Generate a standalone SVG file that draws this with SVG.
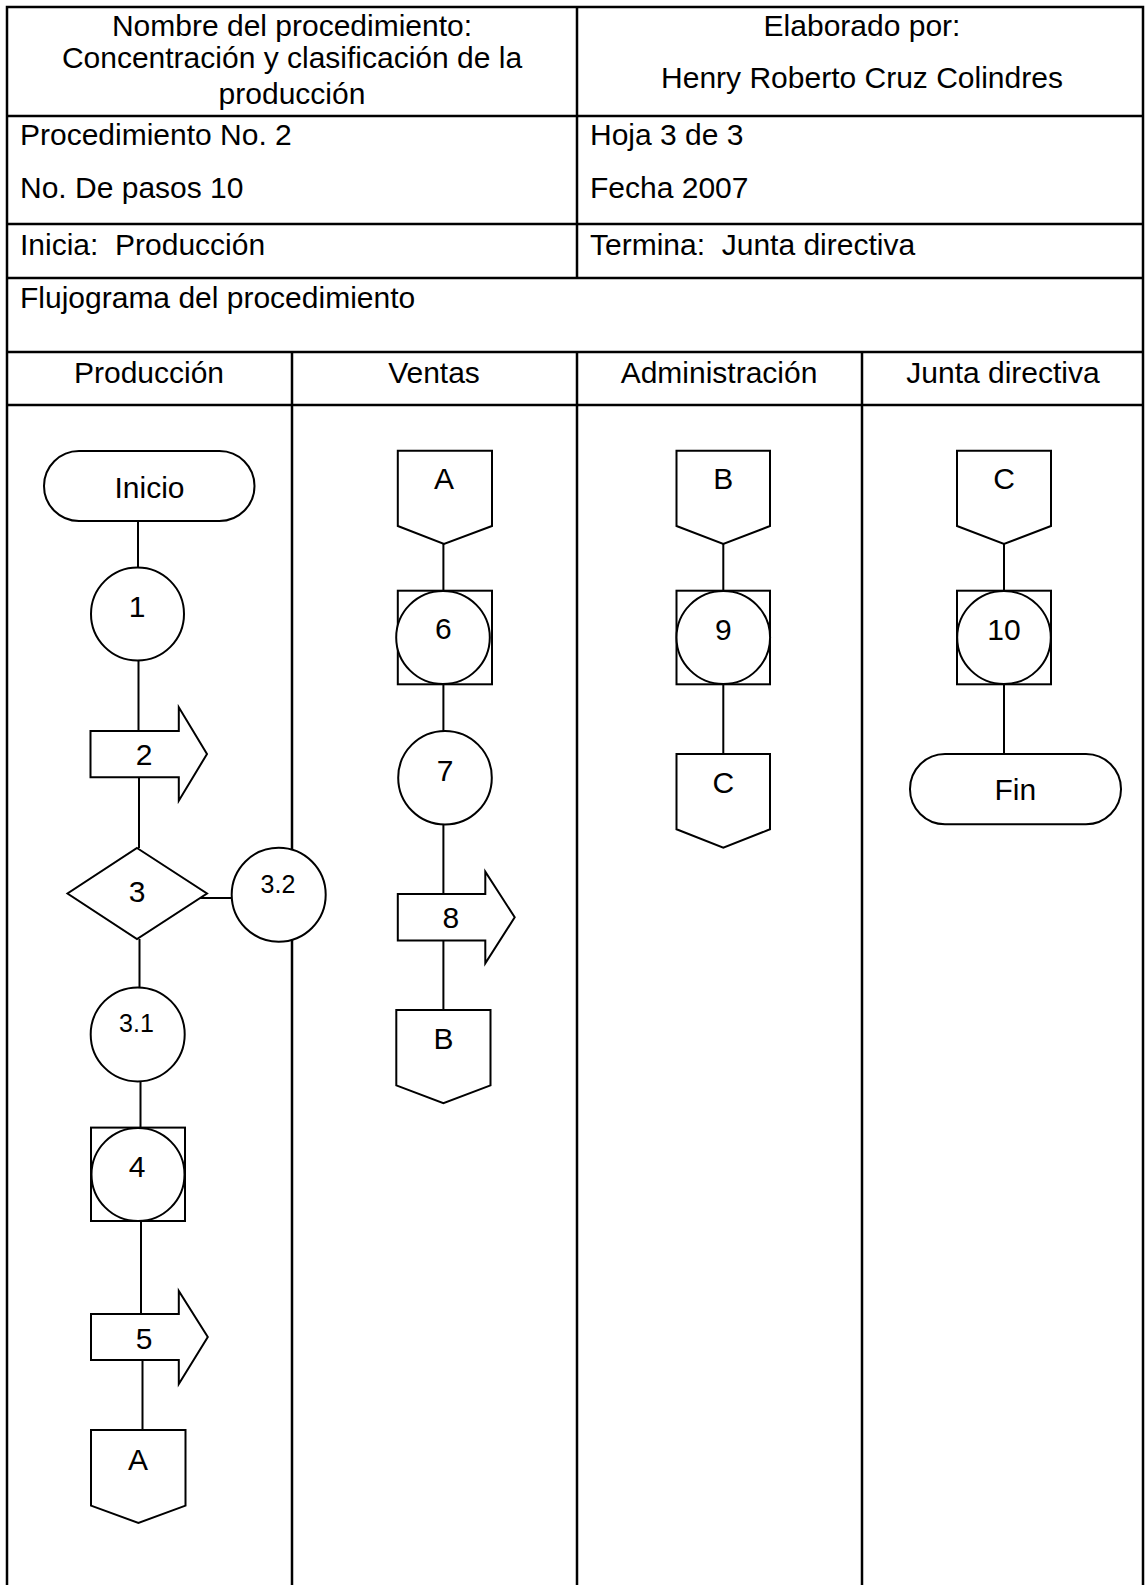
<svg xmlns="http://www.w3.org/2000/svg" width="1146" height="1585" viewBox="0 0 1146 1585">
<style>
.t{font-family:"Liberation Sans",Arial,sans-serif;font-size:30px;fill:#000}
.c{text-anchor:middle}
.s{font-size:25px}
.tbl{stroke:#000;stroke-width:2.5;fill:none}
.sh{stroke:#000;stroke-width:2;fill:#fff}
.ln{stroke:#000;stroke-width:2;fill:none}
</style>
<rect width="1146" height="1585" fill="#fff"/>
<g id="table">
<path class="tbl" d="M7,1585 V7 H1143 V1585 M7,116 H1143 M7,224 H1143 M7,278 H1143 M7,352 H1143 M7,405 H1143 M577,7 V278 M292,352 V1585 M577,352 V1585 M862,352 V1585"/>
<text class="t c" x="292" y="36">Nombre del procedimiento:</text>
<text class="t c" x="292" y="68">Concentración y clasificación de la</text>
<text class="t c" x="292" y="104">producción</text>
<text class="t c" x="862" y="36">Elaborado por:</text>
<text class="t c" x="862" y="88">Henry Roberto Cruz Colindres</text>
<text class="t" x="20" y="145">Procedimiento No. 2</text>
<text class="t" x="20" y="198">No. De pasos 10</text>
<text class="t" x="590" y="145">Hoja 3 de 3</text>
<text class="t" x="590" y="198">Fecha 2007</text>
<text class="t" x="20" y="255" xml:space="preserve">Inicia:  Producción</text>
<text class="t" x="590" y="255" xml:space="preserve">Termina:  Junta directiva</text>
<text class="t" x="20" y="308">Flujograma del procedimiento</text>
<text class="t c" x="149" y="383">Producción</text>
<text class="t c" x="434" y="383">Ventas</text>
<text class="t c" x="719" y="383">Administración</text>
<text class="t c" x="1003" y="383">Junta directiva</text>
</g>
<g id="connectors">
<path class="ln" d="M138,521 V567.5 M138.5,660.5 V731 M139,777.3 V848 M200,898 H232 M139.5,939 V987.6 M140.5,1081 V1127.6 M141,1221 V1314 M142.5,1360 V1430 M443.4,544 V590.7 M443.4,684.3 V731 M443.4,824.3 V894 M443.4,940.4 V1010 M723.3,544 V590.7 M723.3,684.3 V754 M1004,544 V590.7 M1004,684.3 V754"/>
</g>
<g id="inicio"><rect class="sh" x="44" y="451" width="210.5" height="70" rx="35"/><text class="t c" x="149.5" y="498">Inicio</text></g>
<g id="n1"><circle class="sh" cx="137.5" cy="614" r="46.5"/><text class="t c" x="137" y="617">1</text></g>
<g id="n2"><polygon class="sh" points="90.5,731 178.8,731 178.8,707.3 207,754 178.8,800.7 178.8,777.3 90.5,777.3"/><text class="t c" x="144" y="765">2</text></g>
<g id="n3"><polygon class="sh" points="137,848 207,893.5 137,939 67.5,893.5"/><text class="t c" x="137" y="902">3</text></g>
<g id="n3_2"><circle class="sh" cx="278.7" cy="894.7" r="47"/><text class="t c s" x="278" y="892.7">3.2</text></g>
<g id="n3_1"><circle class="sh" cx="137.7" cy="1034.4" r="47"/><text class="t c s" x="136.5" y="1032">3.1</text></g>
<g id="n4"><rect class="sh" x="91" y="1127.6" width="94" height="93.4"/><ellipse class="sh" cx="138" cy="1174.5" rx="46.5" ry="46.5"/><text class="t c" x="137" y="1177">4</text></g>
<g id="n5"><polygon class="sh" points="91,1314 178.8,1314 178.8,1291 207.8,1337 178.8,1384 178.8,1360 91,1360"/><text class="t c" x="144" y="1348.5">5</text></g>
<g id="conA1"><polygon class="sh" points="91,1430 185.5,1430 185.5,1505.6 138.4,1523 91,1505.6"/><text class="t c" x="138" y="1470">A</text></g>
<g id="conA2"><polygon class="sh" points="397.8,450.7 492,450.7 492,526 444,544 397.8,526"/><text class="t c" x="444" y="489">A</text></g>
<g id="n6"><rect class="sh" x="397.8" y="590.7" width="94.2" height="93.6"/><ellipse class="sh" cx="443" cy="637.5" rx="46.8" ry="46.5"/><text class="t c" x="443.4" y="639">6</text></g>
<g id="n7"><circle class="sh" cx="445" cy="777.7" r="46.8"/><text class="t c" x="445" y="780.7">7</text></g>
<g id="n8"><polygon class="sh" points="397.8,894 485.3,894 485.3,871.7 514.7,917.3 485.3,963.4 485.3,940.4 397.8,940.4"/><text class="t c" x="450.8" y="928">8</text></g>
<g id="conB1"><polygon class="sh" points="396.3,1010 490.5,1010 490.5,1085.4 443.4,1103.3 396.3,1085.4"/><text class="t c" x="443.4" y="1049">B</text></g>
<g id="conB2"><polygon class="sh" points="676.5,450.7 770,450.7 770,526 723.3,544 676.5,526"/><text class="t c" x="723.3" y="489.3">B</text></g>
<g id="n9"><rect class="sh" x="676.5" y="590.7" width="93.5" height="93.6"/><ellipse class="sh" cx="723.3" cy="637.5" rx="46.8" ry="46.5"/><text class="t c" x="723.3" y="640">9</text></g>
<g id="conC1"><polygon class="sh" points="676.5,754 770,754 770,829.3 723.3,847.7 676.5,829.3"/><text class="t c" x="723.3" y="793.3">C</text></g>
<g id="conC2"><polygon class="sh" points="957,450.7 1051,450.7 1051,526 1004,544 957,526"/><text class="t c" x="1004" y="489">C</text></g>
<g id="n10"><rect class="sh" x="957" y="590.7" width="94" height="93.6"/><ellipse class="sh" cx="1004" cy="637.5" rx="46.8" ry="46.5"/><text class="t c" x="1004" y="640">10</text></g>
<g id="fin"><rect class="sh" x="910" y="754" width="211" height="70.3" rx="35"/><text class="t c" x="1015.4" y="800">Fin</text></g>
</svg>
